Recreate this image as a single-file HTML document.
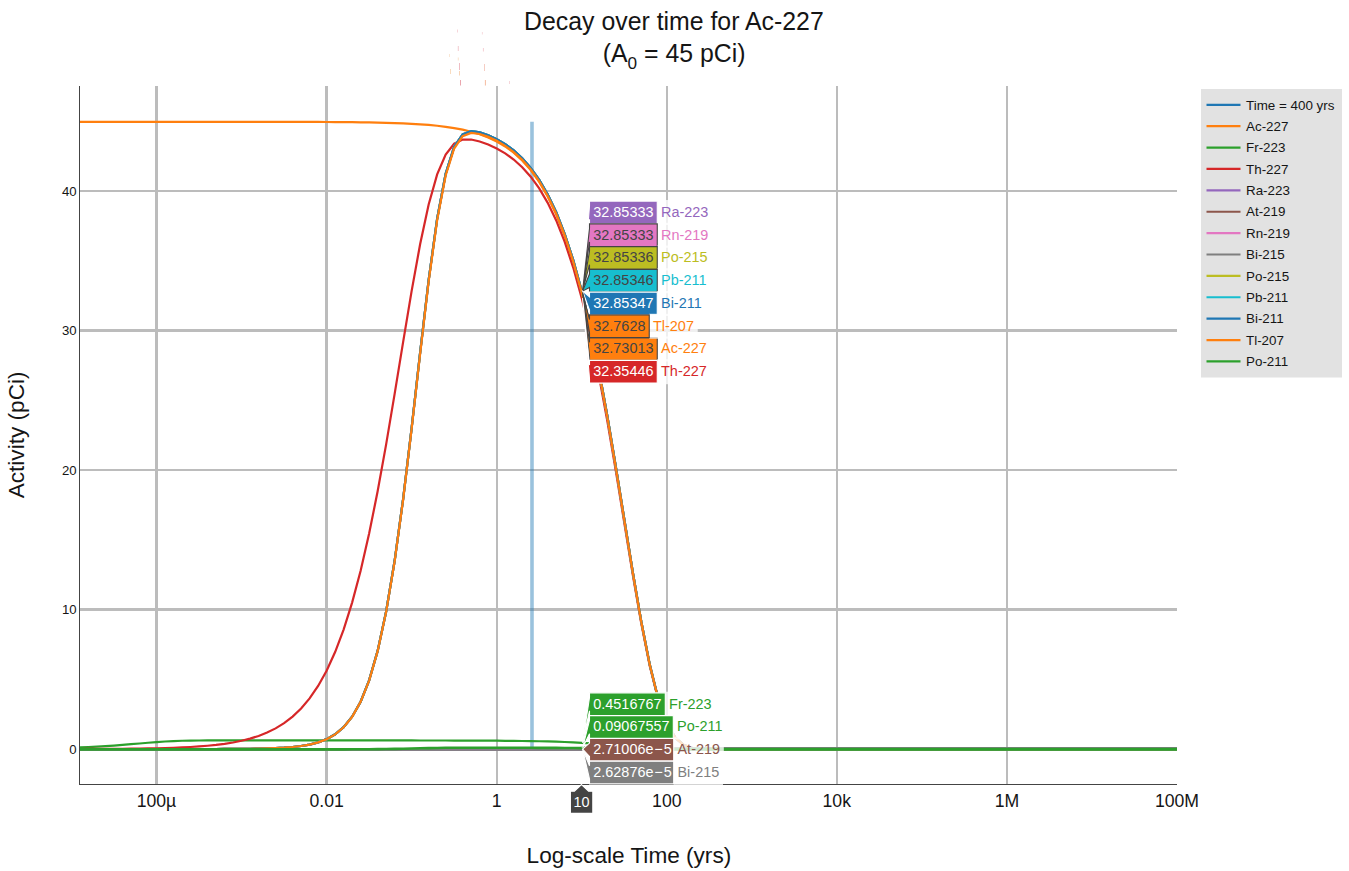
<!DOCTYPE html>
<html><head><meta charset="utf-8"><title>Decay over time for Ac-227</title>
<style>
html,body{margin:0;padding:0;background:#fff;}
body{width:1349px;height:871px;overflow:hidden;font-family:"Liberation Sans",sans-serif;}
svg{display:block;font-family:"Liberation Sans",sans-serif;}
text{white-space:pre;}
.tr{fill:none;stroke-linejoin:miter;stroke-miterlimit:2;}
</style></head><body>
<svg width="1349" height="871" viewBox="0 0 1349 871">
<rect x="0" y="0" width="1349" height="871" fill="#fff"/>
<defs><clipPath id="pc"><rect x="80" y="86" width="1097" height="698"/></clipPath></defs>
<g shape-rendering="crispEdges" fill="#bcbcbc">
<rect x="155" y="86" width="3" height="698"/>
<rect x="325" y="86" width="3" height="698"/>
<rect x="496" y="86" width="2" height="698"/>
<rect x="666" y="86" width="2" height="698"/>
<rect x="836" y="86" width="2" height="698"/>
<rect x="1006" y="86" width="2" height="698"/>
<rect x="80" y="190" width="1097" height="2"/>
<rect x="80" y="329" width="1097" height="3"/>
<rect x="80" y="469" width="1097" height="2"/>
<rect x="80" y="608" width="1097" height="3"/>
<rect x="80" y="748" width="1097" height="2"/>
</g>
<g clip-path="url(#pc)">
<path class="tr" d="M532.0,749.10L532.0,121.80" stroke="#1f77b4" stroke-opacity="0.45" stroke-width="3.6"/>
<path class="tr" d="M80.00,121.80L88.50,121.80L97.01,121.80L105.51,121.80L114.02,121.80L122.52,121.80L131.02,121.80L139.53,121.80L148.03,121.80L156.53,121.80L165.04,121.80L173.54,121.80L182.05,121.80L190.55,121.81L199.05,121.81L207.56,121.81L216.06,121.81L224.57,121.81L233.07,121.82L241.57,121.82L250.08,121.83L258.58,121.83L267.09,121.84L275.59,121.85L284.09,121.86L292.60,121.88L301.10,121.90L309.60,121.93L318.11,121.96L326.61,122.00L335.12,122.05L343.62,122.12L352.12,122.20L360.63,122.30L369.13,122.43L377.64,122.59L386.14,122.80L394.64,123.06L403.15,123.38L411.65,123.79L420.16,124.31L428.66,124.96L437.16,125.77L445.67,126.80L454.17,128.08L462.67,129.70L471.18,131.73L479.68,134.28L488.19,137.46L496.69,141.46L505.19,146.44L513.70,152.67L522.20,160.41L530.71,170.01L539.21,181.88L547.71,196.47L556.22,214.32L564.72,235.96L573.22,261.97L581.73,292.84L590.23,328.94L598.74,370.36L607.24,416.75L615.74,467.15L624.25,519.88L632.75,572.48L641.26,621.89L649.76,664.94L658.26,699.07L666.77,723.11L675.27,737.70L683.78,745.06L692.28,748.01L700.78,748.89L709.29,749.07L717.79,749.10L726.29,749.10L734.80,749.10L743.30,749.10L751.81,749.10L760.31,749.10L768.81,749.10L777.32,749.10L785.82,749.10L794.33,749.10L802.83,749.10L811.33,749.10L819.84,749.10L828.34,749.10L836.84,749.10L845.35,749.10L853.85,749.10L862.36,749.10L870.86,749.10L879.36,749.10L887.87,749.10L896.37,749.10L904.88,749.10L913.38,749.10L921.88,749.10L930.39,749.10L938.89,749.10L947.40,749.10L955.90,749.10L964.40,749.10L972.91,749.10L981.41,749.10L989.91,749.10L998.42,749.10L1006.92,749.10L1015.43,749.10L1023.93,749.10L1032.43,749.10L1040.94,749.10L1049.44,749.10L1057.95,749.10L1066.45,749.10L1074.95,749.10L1083.46,749.10L1091.96,749.10L1100.47,749.10L1108.97,749.10L1117.47,749.10L1125.98,749.10L1134.48,749.10L1142.98,749.10L1151.49,749.10L1159.99,749.10L1168.50,749.10L1177.00,749.10" stroke="#ff7f0e" stroke-width="2.2"/>
<path class="tr" d="M80.00,747.47L88.50,747.10L97.01,746.66L105.51,746.15L114.02,745.57L122.52,744.92L131.02,744.22L139.53,743.49L148.03,742.76L156.53,742.09L165.04,741.52L173.54,741.07L182.05,740.76L190.55,740.58L199.05,740.49L207.56,740.46L216.06,740.45L224.57,740.44L233.07,740.44L241.57,740.44L250.08,740.44L258.58,740.44L267.09,740.44L275.59,740.44L284.09,740.44L292.60,740.44L301.10,740.44L309.60,740.44L318.11,740.45L326.61,740.45L335.12,740.45L343.62,740.45L352.12,740.45L360.63,740.45L369.13,740.45L377.64,740.45L386.14,740.46L394.64,740.46L403.15,740.47L411.65,740.47L420.16,740.48L428.66,740.49L437.16,740.50L445.67,740.51L454.17,740.53L462.67,740.55L471.18,740.58L479.68,740.62L488.19,740.66L496.69,740.71L505.19,740.78L513.70,740.87L522.20,740.98L530.71,741.11L539.21,741.27L547.71,741.47L556.22,741.72L564.72,742.02L573.22,742.38L581.73,742.80L590.23,743.30L598.74,743.87L607.24,744.51L615.74,745.21L624.25,745.94L632.75,746.66L641.26,747.34L649.76,747.94L658.26,748.41L666.77,748.74L675.27,748.94L683.78,749.04L692.28,749.08L700.78,749.10L709.29,749.10L717.79,749.10L726.29,749.10L734.80,749.10L743.30,749.10L751.81,749.10L760.31,749.10L768.81,749.10L777.32,749.10L785.82,749.10L794.33,749.10L802.83,749.10L811.33,749.10L819.84,749.10L828.34,749.10L836.84,749.10L845.35,749.10L853.85,749.10L862.36,749.10L870.86,749.10L879.36,749.10L887.87,749.10L896.37,749.10L904.88,749.10L913.38,749.10L921.88,749.10L930.39,749.10L938.89,749.10L947.40,749.10L955.90,749.10L964.40,749.10L972.91,749.10L981.41,749.10L989.91,749.10L998.42,749.10L1006.92,749.10L1015.43,749.10L1023.93,749.10L1032.43,749.10L1040.94,749.10L1049.44,749.10L1057.95,749.10L1066.45,749.10L1074.95,749.10L1083.46,749.10L1091.96,749.10L1100.47,749.10L1108.97,749.10L1117.47,749.10L1125.98,749.10L1134.48,749.10L1142.98,749.10L1151.49,749.10L1159.99,749.10L1168.50,749.10L1177.00,749.10" stroke="#2ca02c" stroke-width="2.2"/>
<path class="tr" d="M80.00,748.99L88.50,748.97L97.01,748.93L105.51,748.89L114.02,748.83L122.52,748.77L131.02,748.68L139.53,748.57L148.03,748.43L156.53,748.26L165.04,748.05L173.54,747.77L182.05,747.43L190.55,747.00L199.05,746.45L207.56,745.77L216.06,744.91L224.57,743.83L233.07,742.48L241.57,740.77L250.08,738.63L258.58,735.95L267.09,732.60L275.59,728.39L284.09,723.15L292.60,716.61L301.10,708.48L309.60,698.40L318.11,685.97L326.61,670.70L335.12,652.08L343.62,629.55L352.12,602.57L360.63,570.67L369.13,533.58L377.64,491.31L386.14,444.37L394.64,393.92L403.15,341.87L411.65,290.87L420.16,244.06L428.66,204.50L437.16,174.43L445.67,154.54L454.17,143.75L462.67,139.62L471.18,139.51L479.68,141.45L488.19,144.50L496.69,148.43L505.19,153.36L513.70,159.51L522.20,167.17L530.71,176.66L539.21,188.39L547.71,202.82L556.22,220.45L564.72,241.85L573.22,267.56L581.73,298.08L590.23,333.77L598.74,374.71L607.24,420.56L615.74,470.39L624.25,522.52L632.75,574.51L641.26,623.35L649.76,665.91L658.26,699.65L666.77,723.41L675.27,737.83L683.78,745.11L692.28,748.02L700.78,748.89L709.29,749.07L717.79,749.10L726.29,749.10L734.80,749.10L743.30,749.10L751.81,749.10L760.31,749.10L768.81,749.10L777.32,749.10L785.82,749.10L794.33,749.10L802.83,749.10L811.33,749.10L819.84,749.10L828.34,749.10L836.84,749.10L845.35,749.10L853.85,749.10L862.36,749.10L870.86,749.10L879.36,749.10L887.87,749.10L896.37,749.10L904.88,749.10L913.38,749.10L921.88,749.10L930.39,749.10L938.89,749.10L947.40,749.10L955.90,749.10L964.40,749.10L972.91,749.10L981.41,749.10L989.91,749.10L998.42,749.10L1006.92,749.10L1015.43,749.10L1023.93,749.10L1032.43,749.10L1040.94,749.10L1049.44,749.10L1057.95,749.10L1066.45,749.10L1074.95,749.10L1083.46,749.10L1091.96,749.10L1100.47,749.10L1108.97,749.10L1117.47,749.10L1125.98,749.10L1134.48,749.10L1142.98,749.10L1151.49,749.10L1159.99,749.10L1168.50,749.10L1177.00,749.10" stroke="#d62728" stroke-width="2.2"/>
<path class="tr" d="M80.00,749.10L88.50,749.10L97.01,749.10L105.51,749.10L114.02,749.10L122.52,749.10L131.02,749.10L139.53,749.10L148.03,749.09L156.53,749.09L165.04,749.08L173.54,749.08L182.05,749.07L190.55,749.06L199.05,749.04L207.56,749.02L216.06,748.99L224.57,748.95L233.07,748.90L241.57,748.83L250.08,748.73L258.58,748.58L267.09,748.38L275.59,748.07L284.09,747.63L292.60,746.98L301.10,746.00L309.60,744.55L318.11,742.38L326.61,739.14L335.12,734.31L343.62,727.18L352.12,716.75L360.63,701.69L369.13,680.37L377.64,650.91L386.14,611.48L394.64,560.79L403.15,498.83L411.65,427.77L420.16,352.47L428.66,280.16L437.16,218.70L445.67,173.83L454.17,146.85L462.67,134.47L471.18,131.18L479.68,132.27L488.19,135.20L496.69,139.17L505.19,144.18L513.70,150.42L522.20,158.19L530.71,167.83L539.21,179.74L547.71,194.39L556.22,212.30L564.72,234.03L573.22,260.13L581.73,291.12L590.23,327.36L598.74,368.94L607.24,415.50L615.74,466.09L624.25,519.02L632.75,571.82L641.26,621.41L649.76,664.63L658.26,698.89L666.77,723.01L675.27,737.66L683.78,745.05L692.28,748.00L700.78,748.89L709.29,749.07L717.79,749.10L726.29,749.10L734.80,749.10L743.30,749.10L751.81,749.10L760.31,749.10L768.81,749.10L777.32,749.10L785.82,749.10L794.33,749.10L802.83,749.10L811.33,749.10L819.84,749.10L828.34,749.10L836.84,749.10L845.35,749.10L853.85,749.10L862.36,749.10L870.86,749.10L879.36,749.10L887.87,749.10L896.37,749.10L904.88,749.10L913.38,749.10L921.88,749.10L930.39,749.10L938.89,749.10L947.40,749.10L955.90,749.10L964.40,749.10L972.91,749.10L981.41,749.10L989.91,749.10L998.42,749.10L1006.92,749.10L1015.43,749.10L1023.93,749.10L1032.43,749.10L1040.94,749.10L1049.44,749.10L1057.95,749.10L1066.45,749.10L1074.95,749.10L1083.46,749.10L1091.96,749.10L1100.47,749.10L1108.97,749.10L1117.47,749.10L1125.98,749.10L1134.48,749.10L1142.98,749.10L1151.49,749.10L1159.99,749.10L1168.50,749.10L1177.00,749.10" stroke="#9467bd" stroke-width="2.2"/>
<path class="tr" d="M80.00,749.10L88.50,749.10L97.01,749.10L105.51,749.10L114.02,749.10L122.52,749.10L131.02,749.10L139.53,749.10L148.03,749.10L156.53,749.10L165.04,749.10L173.54,749.10L182.05,749.10L190.55,749.10L199.05,749.10L207.56,749.10L216.06,749.10L224.57,749.10L233.07,749.10L241.57,749.10L250.08,749.10L258.58,749.10L267.09,749.10L275.59,749.10L284.09,749.10L292.60,749.10L301.10,749.10L309.60,749.10L318.11,749.10L326.61,749.10L335.12,749.10L343.62,749.10L352.12,749.10L360.63,749.10L369.13,749.10L377.64,749.10L386.14,749.10L394.64,749.10L403.15,749.10L411.65,749.10L420.16,749.10L428.66,749.10L437.16,749.10L445.67,749.10L454.17,749.10L462.67,749.10L471.18,749.10L479.68,749.10L488.19,749.10L496.69,749.10L505.19,749.10L513.70,749.10L522.20,749.10L530.71,749.10L539.21,749.10L547.71,749.10L556.22,749.10L564.72,749.10L573.22,749.10L581.73,749.10L590.23,749.10L598.74,749.10L607.24,749.10L615.74,749.10L624.25,749.10L632.75,749.10L641.26,749.10L649.76,749.10L658.26,749.10L666.77,749.10L675.27,749.10L683.78,749.10L692.28,749.10L700.78,749.10L709.29,749.10L717.79,749.10L726.29,749.10L734.80,749.10L743.30,749.10L751.81,749.10L760.31,749.10L768.81,749.10L777.32,749.10L785.82,749.10L794.33,749.10L802.83,749.10L811.33,749.10L819.84,749.10L828.34,749.10L836.84,749.10L845.35,749.10L853.85,749.10L862.36,749.10L870.86,749.10L879.36,749.10L887.87,749.10L896.37,749.10L904.88,749.10L913.38,749.10L921.88,749.10L930.39,749.10L938.89,749.10L947.40,749.10L955.90,749.10L964.40,749.10L972.91,749.10L981.41,749.10L989.91,749.10L998.42,749.10L1006.92,749.10L1015.43,749.10L1023.93,749.10L1032.43,749.10L1040.94,749.10L1049.44,749.10L1057.95,749.10L1066.45,749.10L1074.95,749.10L1083.46,749.10L1091.96,749.10L1100.47,749.10L1108.97,749.10L1117.47,749.10L1125.98,749.10L1134.48,749.10L1142.98,749.10L1151.49,749.10L1159.99,749.10L1168.50,749.10L1177.00,749.10" stroke="#8c564b" stroke-width="2.2"/>
<path class="tr" d="M80.00,749.10L88.50,749.10L97.01,749.10L105.51,749.10L114.02,749.10L122.52,749.10L131.02,749.10L139.53,749.10L148.03,749.09L156.53,749.09L165.04,749.08L173.54,749.08L182.05,749.07L190.55,749.06L199.05,749.04L207.56,749.02L216.06,748.99L224.57,748.95L233.07,748.90L241.57,748.83L250.08,748.73L258.58,748.58L267.09,748.38L275.59,748.07L284.09,747.63L292.60,746.98L301.10,746.00L309.60,744.55L318.11,742.38L326.61,739.14L335.12,734.31L343.62,727.18L352.12,716.75L360.63,701.69L369.13,680.37L377.64,650.91L386.14,611.48L394.64,560.79L403.15,498.83L411.65,427.77L420.16,352.47L428.66,280.16L437.16,218.70L445.67,173.83L454.17,146.85L462.67,134.47L471.18,131.18L479.68,132.27L488.19,135.20L496.69,139.17L505.19,144.18L513.70,150.42L522.20,158.19L530.71,167.83L539.21,179.74L547.71,194.39L556.22,212.30L564.72,234.03L573.22,260.13L581.73,291.12L590.23,327.36L598.74,368.94L607.24,415.50L615.74,466.09L624.25,519.02L632.75,571.82L641.26,621.41L649.76,664.63L658.26,698.89L666.77,723.01L675.27,737.66L683.78,745.05L692.28,748.00L700.78,748.89L709.29,749.07L717.79,749.10L726.29,749.10L734.80,749.10L743.30,749.10L751.81,749.10L760.31,749.10L768.81,749.10L777.32,749.10L785.82,749.10L794.33,749.10L802.83,749.10L811.33,749.10L819.84,749.10L828.34,749.10L836.84,749.10L845.35,749.10L853.85,749.10L862.36,749.10L870.86,749.10L879.36,749.10L887.87,749.10L896.37,749.10L904.88,749.10L913.38,749.10L921.88,749.10L930.39,749.10L938.89,749.10L947.40,749.10L955.90,749.10L964.40,749.10L972.91,749.10L981.41,749.10L989.91,749.10L998.42,749.10L1006.92,749.10L1015.43,749.10L1023.93,749.10L1032.43,749.10L1040.94,749.10L1049.44,749.10L1057.95,749.10L1066.45,749.10L1074.95,749.10L1083.46,749.10L1091.96,749.10L1100.47,749.10L1108.97,749.10L1117.47,749.10L1125.98,749.10L1134.48,749.10L1142.98,749.10L1151.49,749.10L1159.99,749.10L1168.50,749.10L1177.00,749.10" stroke="#e377c2" stroke-width="2.2"/>
<path class="tr" d="M80.00,749.10L88.50,749.10L97.01,749.10L105.51,749.10L114.02,749.10L122.52,749.10L131.02,749.10L139.53,749.10L148.03,749.10L156.53,749.10L165.04,749.10L173.54,749.10L182.05,749.10L190.55,749.10L199.05,749.10L207.56,749.10L216.06,749.10L224.57,749.10L233.07,749.10L241.57,749.10L250.08,749.10L258.58,749.10L267.09,749.10L275.59,749.10L284.09,749.10L292.60,749.10L301.10,749.10L309.60,749.10L318.11,749.10L326.61,749.10L335.12,749.10L343.62,749.10L352.12,749.10L360.63,749.10L369.13,749.10L377.64,749.10L386.14,749.10L394.64,749.10L403.15,749.10L411.65,749.10L420.16,749.10L428.66,749.10L437.16,749.10L445.67,749.10L454.17,749.10L462.67,749.10L471.18,749.10L479.68,749.10L488.19,749.10L496.69,749.10L505.19,749.10L513.70,749.10L522.20,749.10L530.71,749.10L539.21,749.10L547.71,749.10L556.22,749.10L564.72,749.10L573.22,749.10L581.73,749.10L590.23,749.10L598.74,749.10L607.24,749.10L615.74,749.10L624.25,749.10L632.75,749.10L641.26,749.10L649.76,749.10L658.26,749.10L666.77,749.10L675.27,749.10L683.78,749.10L692.28,749.10L700.78,749.10L709.29,749.10L717.79,749.10L726.29,749.10L734.80,749.10L743.30,749.10L751.81,749.10L760.31,749.10L768.81,749.10L777.32,749.10L785.82,749.10L794.33,749.10L802.83,749.10L811.33,749.10L819.84,749.10L828.34,749.10L836.84,749.10L845.35,749.10L853.85,749.10L862.36,749.10L870.86,749.10L879.36,749.10L887.87,749.10L896.37,749.10L904.88,749.10L913.38,749.10L921.88,749.10L930.39,749.10L938.89,749.10L947.40,749.10L955.90,749.10L964.40,749.10L972.91,749.10L981.41,749.10L989.91,749.10L998.42,749.10L1006.92,749.10L1015.43,749.10L1023.93,749.10L1032.43,749.10L1040.94,749.10L1049.44,749.10L1057.95,749.10L1066.45,749.10L1074.95,749.10L1083.46,749.10L1091.96,749.10L1100.47,749.10L1108.97,749.10L1117.47,749.10L1125.98,749.10L1134.48,749.10L1142.98,749.10L1151.49,749.10L1159.99,749.10L1168.50,749.10L1177.00,749.10" stroke="#7f7f7f" stroke-width="2.2"/>
<path class="tr" d="M80.00,749.10L88.50,749.10L97.01,749.10L105.51,749.10L114.02,749.10L122.52,749.10L131.02,749.10L139.53,749.10L148.03,749.09L156.53,749.09L165.04,749.08L173.54,749.08L182.05,749.07L190.55,749.06L199.05,749.04L207.56,749.02L216.06,748.99L224.57,748.95L233.07,748.90L241.57,748.83L250.08,748.73L258.58,748.58L267.09,748.38L275.59,748.07L284.09,747.63L292.60,746.98L301.10,746.00L309.60,744.55L318.11,742.38L326.61,739.14L335.12,734.31L343.62,727.18L352.12,716.75L360.63,701.69L369.13,680.37L377.64,650.91L386.14,611.48L394.64,560.79L403.15,498.83L411.65,427.77L420.16,352.47L428.66,280.16L437.16,218.69L445.67,173.83L454.17,146.85L462.67,134.47L471.18,131.18L479.68,132.27L488.19,135.20L496.69,139.17L505.19,144.18L513.70,150.42L522.20,158.19L530.71,167.83L539.21,179.74L547.71,194.39L556.22,212.30L564.72,234.03L573.22,260.13L581.73,291.12L590.23,327.36L598.74,368.93L607.24,415.49L615.74,466.09L624.25,519.02L632.75,571.82L641.26,621.41L649.76,664.63L658.26,698.89L666.77,723.01L675.27,737.66L683.78,745.05L692.28,748.00L700.78,748.89L709.29,749.07L717.79,749.10L726.29,749.10L734.80,749.10L743.30,749.10L751.81,749.10L760.31,749.10L768.81,749.10L777.32,749.10L785.82,749.10L794.33,749.10L802.83,749.10L811.33,749.10L819.84,749.10L828.34,749.10L836.84,749.10L845.35,749.10L853.85,749.10L862.36,749.10L870.86,749.10L879.36,749.10L887.87,749.10L896.37,749.10L904.88,749.10L913.38,749.10L921.88,749.10L930.39,749.10L938.89,749.10L947.40,749.10L955.90,749.10L964.40,749.10L972.91,749.10L981.41,749.10L989.91,749.10L998.42,749.10L1006.92,749.10L1015.43,749.10L1023.93,749.10L1032.43,749.10L1040.94,749.10L1049.44,749.10L1057.95,749.10L1066.45,749.10L1074.95,749.10L1083.46,749.10L1091.96,749.10L1100.47,749.10L1108.97,749.10L1117.47,749.10L1125.98,749.10L1134.48,749.10L1142.98,749.10L1151.49,749.10L1159.99,749.10L1168.50,749.10L1177.00,749.10" stroke="#bcbd22" stroke-width="2.2"/>
<path class="tr" d="M80.00,749.10L88.50,749.10L97.01,749.10L105.51,749.10L114.02,749.10L122.52,749.10L131.02,749.10L139.53,749.10L148.03,749.09L156.53,749.09L165.04,749.08L173.54,749.08L182.05,749.07L190.55,749.06L199.05,749.04L207.56,749.02L216.06,748.99L224.57,748.95L233.07,748.90L241.57,748.83L250.08,748.73L258.58,748.58L267.09,748.38L275.59,748.07L284.09,747.63L292.60,746.98L301.10,746.00L309.60,744.55L318.11,742.38L326.61,739.14L335.12,734.31L343.62,727.18L352.12,716.75L360.63,701.69L369.13,680.37L377.64,650.91L386.14,611.48L394.64,560.79L403.15,498.83L411.65,427.77L420.16,352.47L428.66,280.16L437.16,218.69L445.67,173.83L454.17,146.85L462.67,134.47L471.18,131.18L479.68,132.27L488.19,135.19L496.69,139.17L505.19,144.17L513.70,150.42L522.20,158.19L530.71,167.83L539.21,179.74L547.71,194.39L556.22,212.30L564.72,234.03L573.22,260.13L581.73,291.12L590.23,327.36L598.74,368.93L607.24,415.49L615.74,466.09L624.25,519.02L632.75,571.82L641.26,621.41L649.76,664.63L658.26,698.89L666.77,723.01L675.27,737.66L683.78,745.05L692.28,748.00L700.78,748.89L709.29,749.07L717.79,749.10L726.29,749.10L734.80,749.10L743.30,749.10L751.81,749.10L760.31,749.10L768.81,749.10L777.32,749.10L785.82,749.10L794.33,749.10L802.83,749.10L811.33,749.10L819.84,749.10L828.34,749.10L836.84,749.10L845.35,749.10L853.85,749.10L862.36,749.10L870.86,749.10L879.36,749.10L887.87,749.10L896.37,749.10L904.88,749.10L913.38,749.10L921.88,749.10L930.39,749.10L938.89,749.10L947.40,749.10L955.90,749.10L964.40,749.10L972.91,749.10L981.41,749.10L989.91,749.10L998.42,749.10L1006.92,749.10L1015.43,749.10L1023.93,749.10L1032.43,749.10L1040.94,749.10L1049.44,749.10L1057.95,749.10L1066.45,749.10L1074.95,749.10L1083.46,749.10L1091.96,749.10L1100.47,749.10L1108.97,749.10L1117.47,749.10L1125.98,749.10L1134.48,749.10L1142.98,749.10L1151.49,749.10L1159.99,749.10L1168.50,749.10L1177.00,749.10" stroke="#17becf" stroke-width="2.2"/>
<path class="tr" d="M80.00,749.10L88.50,749.10L97.01,749.10L105.51,749.10L114.02,749.10L122.52,749.10L131.02,749.10L139.53,749.10L148.03,749.09L156.53,749.09L165.04,749.08L173.54,749.08L182.05,749.07L190.55,749.06L199.05,749.04L207.56,749.02L216.06,748.99L224.57,748.95L233.07,748.90L241.57,748.83L250.08,748.73L258.58,748.58L267.09,748.38L275.59,748.07L284.09,747.63L292.60,746.98L301.10,746.00L309.60,744.55L318.11,742.38L326.61,739.14L335.12,734.31L343.62,727.18L352.12,716.75L360.63,701.69L369.13,680.37L377.64,650.91L386.14,611.48L394.64,560.79L403.15,498.83L411.65,427.77L420.16,352.47L428.66,280.16L437.16,218.69L445.67,173.83L454.17,146.85L462.67,134.47L471.18,131.18L479.68,132.27L488.19,135.19L496.69,139.17L505.19,144.17L513.70,150.42L522.20,158.19L530.71,167.83L539.21,179.74L547.71,194.39L556.22,212.30L564.72,234.03L573.22,260.13L581.73,291.12L590.23,327.36L598.74,368.93L607.24,415.49L615.74,466.09L624.25,519.02L632.75,571.82L641.26,621.41L649.76,664.63L658.26,698.89L666.77,723.01L675.27,737.66L683.78,745.05L692.28,748.00L700.78,748.89L709.29,749.07L717.79,749.10L726.29,749.10L734.80,749.10L743.30,749.10L751.81,749.10L760.31,749.10L768.81,749.10L777.32,749.10L785.82,749.10L794.33,749.10L802.83,749.10L811.33,749.10L819.84,749.10L828.34,749.10L836.84,749.10L845.35,749.10L853.85,749.10L862.36,749.10L870.86,749.10L879.36,749.10L887.87,749.10L896.37,749.10L904.88,749.10L913.38,749.10L921.88,749.10L930.39,749.10L938.89,749.10L947.40,749.10L955.90,749.10L964.40,749.10L972.91,749.10L981.41,749.10L989.91,749.10L998.42,749.10L1006.92,749.10L1015.43,749.10L1023.93,749.10L1032.43,749.10L1040.94,749.10L1049.44,749.10L1057.95,749.10L1066.45,749.10L1074.95,749.10L1083.46,749.10L1091.96,749.10L1100.47,749.10L1108.97,749.10L1117.47,749.10L1125.98,749.10L1134.48,749.10L1142.98,749.10L1151.49,749.10L1159.99,749.10L1168.50,749.10L1177.00,749.10" stroke="#1f77b4" stroke-width="2.2"/>
<path class="tr" d="M80.00,749.10L88.50,749.10L97.01,749.10L105.51,749.10L114.02,749.10L122.52,749.10L131.02,749.10L139.53,749.10L148.03,749.09L156.53,749.09L165.04,749.08L173.54,749.08L182.05,749.07L190.55,749.06L199.05,749.04L207.56,749.02L216.06,748.99L224.57,748.96L233.07,748.90L241.57,748.83L250.08,748.73L258.58,748.59L267.09,748.38L275.59,748.08L284.09,747.63L292.60,746.98L301.10,746.01L309.60,744.56L318.11,742.40L326.61,739.17L335.12,734.36L343.62,727.24L352.12,716.84L360.63,701.82L369.13,680.56L377.64,651.18L386.14,611.86L394.64,561.31L403.15,499.52L411.65,428.66L420.16,353.57L428.66,281.45L437.16,220.16L445.67,175.42L454.17,148.51L462.67,136.17L471.18,132.89L479.68,133.97L488.19,136.89L496.69,140.85L505.19,145.84L513.70,152.07L522.20,159.82L530.71,169.43L539.21,181.31L547.71,195.92L556.22,213.78L564.72,235.45L573.22,261.48L581.73,292.39L590.23,328.52L598.74,369.98L607.24,416.41L615.74,466.87L624.25,519.66L632.75,572.31L641.26,621.77L649.76,664.86L658.26,699.02L666.77,723.08L675.27,737.69L683.78,745.06L692.28,748.01L700.78,748.89L709.29,749.07L717.79,749.10L726.29,749.10L734.80,749.10L743.30,749.10L751.81,749.10L760.31,749.10L768.81,749.10L777.32,749.10L785.82,749.10L794.33,749.10L802.83,749.10L811.33,749.10L819.84,749.10L828.34,749.10L836.84,749.10L845.35,749.10L853.85,749.10L862.36,749.10L870.86,749.10L879.36,749.10L887.87,749.10L896.37,749.10L904.88,749.10L913.38,749.10L921.88,749.10L930.39,749.10L938.89,749.10L947.40,749.10L955.90,749.10L964.40,749.10L972.91,749.10L981.41,749.10L989.91,749.10L998.42,749.10L1006.92,749.10L1015.43,749.10L1023.93,749.10L1032.43,749.10L1040.94,749.10L1049.44,749.10L1057.95,749.10L1066.45,749.10L1074.95,749.10L1083.46,749.10L1091.96,749.10L1100.47,749.10L1108.97,749.10L1117.47,749.10L1125.98,749.10L1134.48,749.10L1142.98,749.10L1151.49,749.10L1159.99,749.10L1168.50,749.10L1177.00,749.10" stroke="#ff7f0e" stroke-width="2.2"/>
<path class="tr" d="M80,749.95H583" stroke="#857e86" stroke-width="2.2"/>
<path class="tr" d="M583,748.0H1177" stroke="#857e86" stroke-width="2.2"/>
<path class="tr" d="M80.00,749.40L88.50,749.40L97.01,749.40L105.51,749.40L114.02,749.40L122.52,749.40L131.02,749.40L139.53,749.40L148.03,749.40L156.53,749.40L165.04,749.40L173.54,749.40L182.05,749.40L190.55,749.40L199.05,749.40L207.56,749.40L216.06,749.40L224.57,749.40L233.07,749.40L241.57,749.40L250.08,749.40L258.58,749.40L267.09,749.40L275.59,749.40L284.09,749.40L292.60,749.39L301.10,749.39L309.60,749.39L318.11,749.38L326.61,749.37L335.12,749.36L343.62,749.34L352.12,749.31L360.63,749.27L369.13,749.21L377.64,749.13L386.14,749.02L394.64,748.88L403.15,748.71L411.65,748.51L420.16,748.31L428.66,748.11L437.16,747.94L445.67,747.81L454.17,747.74L462.67,747.70L471.18,747.69L479.68,747.70L488.19,747.71L496.69,747.72L505.19,747.73L513.70,747.75L522.20,747.77L530.71,747.80L539.21,747.83L547.71,747.87L556.22,747.92L564.72,747.98L573.22,748.05L581.73,748.14" stroke="#2ca02c" stroke-width="2.6"/>
<path class="tr" d="M581.73,747.94L590.23,748.04L598.74,748.15L607.24,748.28L615.74,748.42L624.25,748.56L632.75,748.71L641.26,748.85L649.76,748.97L658.26,749.06L666.77,749.13L675.27,749.17L683.78,749.19L692.28,749.20L700.78,749.20L709.29,749.20L717.79,749.20L726.29,749.20L734.80,749.20L743.30,749.20L751.81,749.20L760.31,749.20L768.81,749.20L777.32,749.20L785.82,749.20L794.33,749.20L802.83,749.20L811.33,749.20L819.84,749.20L828.34,749.20L836.84,749.20L845.35,749.20L853.85,749.20L862.36,749.20L870.86,749.20L879.36,749.20L887.87,749.20L896.37,749.20L904.88,749.20L913.38,749.20L921.88,749.20L930.39,749.20L938.89,749.20L947.40,749.20L955.90,749.20L964.40,749.20L972.91,749.20L981.41,749.20L989.91,749.20L998.42,749.20L1006.92,749.20L1015.43,749.20L1023.93,749.20L1032.43,749.20L1040.94,749.20L1049.44,749.20L1057.95,749.20L1066.45,749.20L1074.95,749.20L1083.46,749.20L1091.96,749.20L1100.47,749.20L1108.97,749.20L1117.47,749.20L1125.98,749.20L1134.48,749.20L1142.98,749.20L1151.49,749.20L1159.99,749.20L1168.50,749.20L1177.00,749.20" stroke="#2ca02c" stroke-width="3"/>
</g>
<g shape-rendering="crispEdges" fill="#444"><rect x="79" y="86" width="1" height="699"/><rect x="79" y="784" width="1098" height="1"/></g>
<g fill="#151515" font-size="17.65px" text-anchor="middle">
<text x="156.5" y="807">100µ</text>
<text x="326.6" y="807">0.01</text>
<text x="496.7" y="807">1</text>
<text x="666.8" y="807">100</text>
<text x="836.8" y="807">10k</text>
<text x="1006.9" y="807">1M</text>
<text x="1177.0" y="807">100M</text>
</g>
<g fill="#151515" font-size="13.2px" text-anchor="end">
<text x="76.6" y="753.7">0</text>
<text x="76.6" y="614.2">10</text>
<text x="76.6" y="474.7">20</text>
<text x="76.6" y="335.2">30</text>
<text x="76.6" y="195.7">40</text>
</g>
<text x="673.9" y="30" text-anchor="middle" font-size="24.85px" fill="#151515">Decay over time for Ac-227</text>
<text x="674.1" y="62" text-anchor="middle" font-size="24.85px" fill="#151515">(A<tspan font-size="17.2px" dy="7">0</tspan><tspan dy="-7"> = 45 pCi)</tspan></text>
<text x="628.9" y="862.5" text-anchor="middle" font-size="22.6px" fill="#151515">Log-scale Time (yrs)</text>
<text transform="translate(23.8,434.9) rotate(-90)" text-anchor="middle" font-size="22.6px" fill="#151515">Activity (pCi)</text>
<rect x="457.0" y="29.5" width="1" height="3" fill="#e58a94" fill-opacity="0.35"/>
<rect x="457.8" y="46" width="1" height="5" fill="#e58a94" fill-opacity="0.45"/>
<rect x="457.8" y="57.5" width="1" height="3" fill="#f0b070" fill-opacity="0.35"/>
<rect x="459.0" y="63" width="1" height="7" fill="#e07a88" fill-opacity="0.5"/>
<rect x="459.0" y="71" width="1" height="4.5" fill="#f0a060" fill-opacity="0.45"/>
<rect x="460.0" y="80" width="1" height="5.5" fill="#dc6a78" fill-opacity="0.6"/>
<rect x="481.9" y="32" width="1" height="2.5" fill="#e58a94" fill-opacity="0.3"/>
<rect x="482.9" y="48" width="1" height="3.5" fill="#e58a94" fill-opacity="0.4"/>
<rect x="484.0" y="64" width="1" height="7" fill="#e8907a" fill-opacity="0.45"/>
<rect x="484.9" y="80" width="1" height="5.5" fill="#ee9060" fill-opacity="0.6"/>
<rect x="450.0" y="69" width="1" height="5" fill="#f0a860" fill-opacity="0.4"/>
<rect x="449.0" y="54" width="1" height="3" fill="#f0b070" fill-opacity="0.3"/>
<rect x="509.0" y="81" width="1" height="3" fill="#e58a94" fill-opacity="0.35"/>
<rect x="1201" y="89" width="141" height="288.5" fill="#e2e2e2"/>
<g font-size="13.4px" fill="#151515">
<path d="M1206.5,104.80H1240.5" stroke="#1f77b4" stroke-width="2.2" fill="none"/>
<text x="1246" y="109.50">Time = 400 yrs</text>
<path d="M1206.5,126.19H1240.5" stroke="#ff7f0e" stroke-width="2.2" fill="none"/>
<text x="1246" y="130.88">Ac-227</text>
<path d="M1206.5,147.57H1240.5" stroke="#2ca02c" stroke-width="2.2" fill="none"/>
<text x="1246" y="152.27">Fr-223</text>
<path d="M1206.5,168.95H1240.5" stroke="#d62728" stroke-width="2.2" fill="none"/>
<text x="1246" y="173.65">Th-227</text>
<path d="M1206.5,190.34H1240.5" stroke="#9467bd" stroke-width="2.2" fill="none"/>
<text x="1246" y="195.04">Ra-223</text>
<path d="M1206.5,211.73H1240.5" stroke="#8c564b" stroke-width="2.2" fill="none"/>
<text x="1246" y="216.43">At-219</text>
<path d="M1206.5,233.11H1240.5" stroke="#e377c2" stroke-width="2.2" fill="none"/>
<text x="1246" y="237.81">Rn-219</text>
<path d="M1206.5,254.50H1240.5" stroke="#7f7f7f" stroke-width="2.2" fill="none"/>
<text x="1246" y="259.19">Bi-215</text>
<path d="M1206.5,275.88H1240.5" stroke="#bcbd22" stroke-width="2.2" fill="none"/>
<text x="1246" y="280.58">Po-215</text>
<path d="M1206.5,297.26H1240.5" stroke="#17becf" stroke-width="2.2" fill="none"/>
<text x="1246" y="301.96">Pb-211</text>
<path d="M1206.5,318.65H1240.5" stroke="#1f77b4" stroke-width="2.2" fill="none"/>
<text x="1246" y="323.35">Bi-211</text>
<path d="M1206.5,340.04H1240.5" stroke="#ff7f0e" stroke-width="2.2" fill="none"/>
<text x="1246" y="344.74">Tl-207</text>
<path d="M1206.5,361.42H1240.5" stroke="#2ca02c" stroke-width="2.2" fill="none"/>
<text x="1246" y="366.12">Po-211</text>
</g>
<g font-size="14.43px">
<g>
<rect x="657.26" y="336.52" width="53.30" height="24.95" fill="#fff" fill-opacity="0.78"/>
<path d="M582.6,292.84L589.5,355.67V360.38H657.26V337.62H589.5V342.33Z" fill="#ff7f0e" stroke="#444" stroke-width="1.1"/>
<text x="593.30" y="353.40" fill="#444">32.73013</text>
<text x="661.06" y="353.40" fill="#ff7f0e">Ac-227</text>
</g>
<g>
<rect x="665.29" y="691.73" width="50.08" height="24.95" fill="#fff" fill-opacity="0.78"/>
<path d="M582.6,742.80L589.5,710.87V715.58H665.29V692.83H589.5V697.53Z" fill="#2ca02c" stroke="#fff" stroke-width="1.1"/>
<text x="593.30" y="708.60" fill="#fff">0.4516767</text>
<text x="669.09" y="708.60" fill="#2ca02c">Fr-223</text>
</g>
<g>
<rect x="657.26" y="359.27" width="53.30" height="24.95" fill="#fff" fill-opacity="0.78"/>
<path d="M582.6,298.08L589.5,378.42V383.12H657.26V360.38H589.5V365.08Z" fill="#d62728" stroke="#fff" stroke-width="1.1"/>
<text x="593.30" y="376.15" fill="#fff">32.35446</text>
<text x="661.06" y="376.15" fill="#d62728">Th-227</text>
</g>
<g>
<rect x="657.26" y="200.03" width="54.91" height="24.95" fill="#fff" fill-opacity="0.78"/>
<path d="M582.6,291.12L589.5,219.17V223.88H657.26V201.12H589.5V205.83Z" fill="#9467bd" stroke="#fff" stroke-width="1.1"/>
<text x="593.30" y="216.90" fill="#fff">32.85333</text>
<text x="661.06" y="216.90" fill="#9467bd">Ra-223</text>
</g>
<g>
<rect x="673.71" y="737.26" width="50.10" height="24.95" fill="#fff" fill-opacity="0.78"/>
<path d="M582.6,749.10L589.5,756.41V761.12H673.71V738.37H589.5V743.07Z" fill="#8c564b" stroke="#fff" stroke-width="1.1"/>
<text x="593.30" y="754.14" fill="#fff">2.71006e<tspan dx="0.9">−</tspan><tspan dx="0.9">5</tspan></text>
<text x="677.51" y="754.14" fill="#8c564b">At-219</text>
</g>
<g>
<rect x="657.26" y="222.78" width="54.91" height="24.95" fill="#fff" fill-opacity="0.78"/>
<path d="M582.6,291.12L589.5,241.92V246.62H657.26V223.88H589.5V228.58Z" fill="#e377c2" stroke="#444" stroke-width="1.1"/>
<text x="593.30" y="239.65" fill="#444">32.85333</text>
<text x="661.06" y="239.65" fill="#e377c2">Rn-219</text>
</g>
<g>
<rect x="673.71" y="760.03" width="49.30" height="24.95" fill="#fff" fill-opacity="0.78"/>
<path d="M582.6,749.10L589.5,779.18V783.88H673.71V761.13H589.5V765.84Z" fill="#7f7f7f" stroke="#fff" stroke-width="1.1"/>
<text x="593.30" y="776.91" fill="#fff">2.62876e<tspan dx="0.9">−</tspan><tspan dx="0.9">5</tspan></text>
<text x="677.51" y="776.91" fill="#7f7f7f">Bi-215</text>
</g>
<g>
<rect x="657.26" y="245.53" width="54.12" height="24.95" fill="#fff" fill-opacity="0.78"/>
<path d="M582.6,291.12L589.5,264.67V269.38H657.26V246.62H589.5V251.33Z" fill="#bcbd22" stroke="#444" stroke-width="1.1"/>
<text x="593.30" y="262.40" fill="#444">32.85336</text>
<text x="661.06" y="262.40" fill="#bcbd22">Po-215</text>
</g>
<g>
<rect x="657.26" y="268.27" width="53.04" height="24.95" fill="#fff" fill-opacity="0.78"/>
<path d="M582.6,291.12L589.5,287.42V292.12H657.26V269.38H589.5V274.08Z" fill="#17becf" stroke="#444" stroke-width="1.1"/>
<text x="593.30" y="285.15" fill="#444">32.85346</text>
<text x="661.06" y="285.15" fill="#17becf">Pb-211</text>
</g>
<g>
<rect x="657.26" y="291.02" width="48.23" height="24.95" fill="#fff" fill-opacity="0.78"/>
<path d="M582.6,291.12L589.5,310.17V314.88H657.26V292.12H589.5V296.83Z" fill="#1f77b4" stroke="#fff" stroke-width="1.1"/>
<text x="593.30" y="307.90" fill="#fff">32.85347</text>
<text x="661.06" y="307.90" fill="#1f77b4">Bi-211</text>
</g>
<g>
<rect x="649.24" y="313.77" width="48.49" height="24.95" fill="#fff" fill-opacity="0.78"/>
<path d="M582.6,292.39L589.5,332.92V337.62H649.24V314.88H589.5V319.58Z" fill="#ff7f0e" stroke="#444" stroke-width="1.1"/>
<text x="593.30" y="330.65" fill="#444">32.7628</text>
<text x="653.04" y="330.65" fill="#ff7f0e">Tl-207</text>
</g>
<g>
<rect x="673.30" y="714.50" width="53.04" height="24.95" fill="#fff" fill-opacity="0.78"/>
<path d="M582.6,747.84L589.5,733.64V738.35H673.30V715.60H589.5V720.30Z" fill="#2ca02c" stroke="#fff" stroke-width="1.1"/>
<text x="593.30" y="731.37" fill="#fff">0.09067557</text>
<text x="677.10" y="731.37" fill="#2ca02c">Po-211</text>
</g>
<path d="M581.5,784.6L588.5699999999999,791.2H592.8V813.4H570.4V791.2H574.4300000000001Z" fill="#444" stroke="#fff" stroke-width="1.1"/>
<text x="581.5" y="807.3" text-anchor="middle" fill="#fff">10</text>
</g>
</svg></body></html>
